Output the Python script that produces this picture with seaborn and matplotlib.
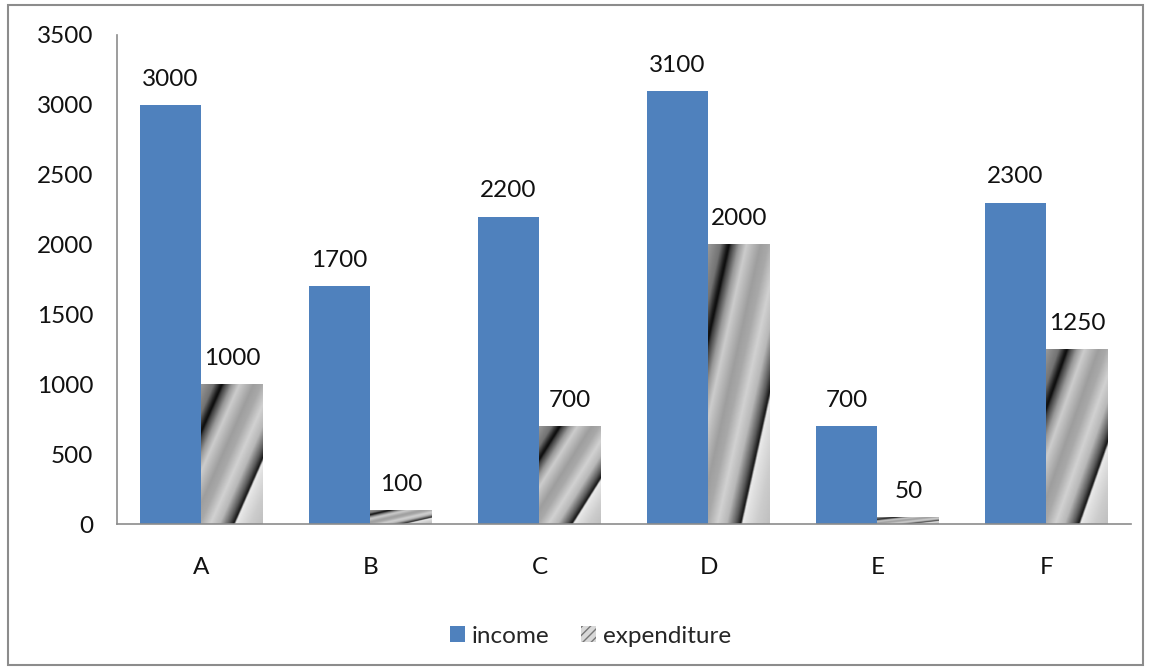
import numpy as np
import pandas as pd
import matplotlib
matplotlib.use("Agg")
import matplotlib.pyplot as plt
from matplotlib.patches import Patch, Rectangle
import seaborn as sns

categories = ["A", "B", "C", "D", "E", "F"]
income = [3000, 1700, 2200, 3100, 700, 2300]
expenditure = [1000, 100, 700, 2000, 50, 1250]
series = ["income", "expenditure"]

df = pd.DataFrame({
    "category": categories * 2,
    "series": [series[0]] * len(categories) + [series[1]] * len(categories),
    "value": income + expenditure,
})

sns.set_theme(style="white")
plt.rcParams["font.family"] = ["Lato", "DejaVu Sans"]

BLUE = "#4F81BD"
FS = 17.5
fig = plt.figure(figsize=(11.49, 6.69), dpi=100)
ax = fig.add_axes([0.1018, 0.2167, 0.8825, 0.731])

sns.barplot(data=df, x="category", y="value", hue="series", hue_order=series,
            palette=[BLUE, "#cccccc"], width=0.73, gap=0, saturation=1,
            edgecolor="none", linewidth=0, legend=False, ax=ax)

ax.set_ylim(0, 3500)
ax.set_xlim(-0.5, len(categories) - 0.5)
ax.set_yticks(np.arange(0, 3501, 500))
ax.set_xlabel("")
ax.set_ylabel("")
ax.tick_params(axis="both", length=0, labelsize=FS, colors="#111111")
ax.tick_params(axis="y", pad=17)
ax.tick_params(axis="x", pad=24)
for s in ["top", "right"]:
    ax.spines[s].set_visible(False)
for s in ["left", "bottom"]:
    ax.spines[s].set_color("#8c8c8c")
    ax.spines[s].set_linewidth(1.2)

# Shaded diagonal texture for the expenditure bars, stretched to each bar
knots = [0.0, 0.2, 0.31, 0.34, 0.38, 0.5, 0.62, 0.85, 0.98, 1.15, 1.3,
         1.45, 1.53, 1.56, 1.62, 1.8, 2.0]
shade = [0.60, 0.45, 0.10, 0.05, 0.25, 0.60, 0.80, 0.62, 0.66, 0.82, 0.72,
         0.35, 0.08, 0.92, 0.88, 0.80, 0.75]
ny, nx = 200, 80
t = np.linspace(0, 1, ny)[:, None]
s = np.linspace(0, 1, nx)[None, :]
tex = np.interp(s + t, knots, shade)

xl, yl = ax.get_xlim(), ax.get_ylim()
for bar in ax.containers[1]:
    x0, y0 = bar.get_x(), bar.get_y()
    w, h = bar.get_width(), bar.get_height()
    bar.set_facecolor("none")
    ax.imshow(tex, extent=[x0, x0 + w, y0, y0 + h], origin="upper", cmap="gray",
              vmin=0, vmax=1, aspect="auto", interpolation="bilinear", zorder=2)
ax.set_xlim(xl)
ax.set_ylim(yl)

for cont in ax.containers:
    ax.bar_label(cont, labels=[f"{int(v)}" for v in cont.datavalues],
                 padding=11, fontsize=FS, color="#111111")

handles = [Patch(facecolor=BLUE, edgecolor="none"),
           Patch(facecolor="#d8d8d8", edgecolor="#777777", hatch="////", linewidth=0)]
fig.legend(handles, series, loc="center", bbox_to_anchor=(0.514, 0.049), ncol=2,
           frameon=False, fontsize=FS, handlelength=0.6, handleheight=0.6,
           handletextpad=0.3, columnspacing=1.3)

fig.patches.append(Rectangle((8 / 1149, 4 / 669), 1135 / 1149, 660 / 669,
                             transform=fig.transFigure, fill=False,
                             edgecolor="#8c8c8c", linewidth=1.5))

fig.savefig("out.png", dpi=100)
